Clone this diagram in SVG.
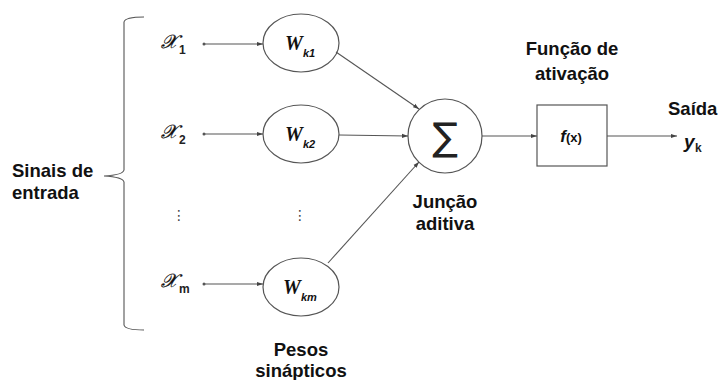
<svg xmlns="http://www.w3.org/2000/svg" width="721" height="380" viewBox="0 0 721 380">
<style>
.shape{fill:#fff;stroke:#555;stroke-width:1.2}
.ln{fill:none;stroke:#555;stroke-width:1.1}
.lbl{font-family:"Liberation Sans",Arial,sans-serif;font-weight:bold;font-size:18.5px;fill:#111}
.xv{font-family:"DejaVu Serif","Liberation Serif",serif;font-style:italic;font-size:19px;fill:#111;stroke:#111;stroke-width:0.3}
.sub{font-family:"Liberation Sans",Arial,sans-serif;font-weight:bold;font-size:12px;fill:#222}
.w{font-family:"Liberation Serif","Times New Roman",serif;font-style:italic;font-weight:bold;font-size:20px;fill:#111}
.wsub{font-family:"Liberation Sans",Arial,sans-serif;font-style:italic;font-weight:bold;font-size:11px;fill:#111}
.dots{font-family:"DejaVu Sans",sans-serif;font-size:14px;fill:#444}
</style>
<defs>
<marker id="ah" viewBox="0 0 10 10" refX="10" refY="5" markerWidth="6" markerHeight="6" orient="auto" markerUnits="userSpaceOnUse">
<path d="M0,1.5 L10,5 L0,8.5 Z" fill="#444"/>
</marker>
<marker id="dot" viewBox="0 0 4 4" refX="2" refY="2" markerWidth="4" markerHeight="4" markerUnits="userSpaceOnUse">
<circle cx="2" cy="2" r="1.5" fill="#555"/>
</marker>
</defs>
<g id="bracket">
<path class="ln" d="M144,17 Q125,17 124,22 L124,170 Q123,175 104,176 Q123,177 124,182 L124,325 Q125,330 144,330"/>
</g>
<g id="input-labels">
<text class="lbl" x="12" y="177">Sinais de</text>
<text class="lbl" x="12" y="199">entrada</text>
</g>
<g id="x1"><text class="xv" x="161" y="48">𝒳</text><text class="sub" x="179" y="54">1</text></g>
<g id="x2"><text class="xv" x="161" y="138">𝒳</text><text class="sub" x="179" y="144">2</text></g>
<g id="xm"><text class="xv" x="161" y="287">𝒳</text><text class="sub" x="179" y="293">m</text></g>
<g id="xdots"><text class="dots" x="179" y="220" text-anchor="middle">⋮</text></g>
<g id="wk1"><ellipse class="shape" cx="301" cy="43" rx="38" ry="29"/><text class="w" x="285" y="50">W</text><text class="wsub" x="303" y="57">k1</text></g>
<g id="wk2"><ellipse class="shape" cx="301" cy="134" rx="38" ry="29"/><text class="w" x="285" y="141">W</text><text class="wsub" x="303" y="148">k2</text></g>
<g id="wdots"><text class="dots" x="300" y="220" text-anchor="middle">⋮</text></g>
<g id="wkm"><ellipse class="shape" cx="301" cy="287" rx="38" ry="29"/><text class="w" x="283" y="294">W</text><text class="wsub" x="301" y="301">km</text></g>
<g id="sum"><circle class="shape" cx="445" cy="136" r="37"/><text x="445" y="150" text-anchor="middle" font-family="DejaVu Sans,sans-serif" font-size="38" fill="#222">∑</text></g>
<g id="fx"><rect class="shape" x="537" y="105" width="70" height="61"/><text x="571" y="142" text-anchor="middle" font-family="Liberation Sans,Arial,sans-serif" font-size="13" font-weight="bold" fill="#111"><tspan font-style="italic" font-size="17">f</tspan>(x)</text></g>
<g id="labels">
<text class="lbl" x="301" y="356" text-anchor="middle">Pesos</text>
<text class="lbl" x="301" y="377" text-anchor="middle">sinápticos</text>
<text class="lbl" x="445" y="208" text-anchor="middle">Junção</text>
<text class="lbl" x="445" y="230" text-anchor="middle">aditiva</text>
<text class="lbl" x="572" y="55" text-anchor="middle">Função de</text>
<text class="lbl" x="572" y="80" text-anchor="middle">ativação</text>
<text class="lbl" x="668" y="115">Saída</text>
</g>
<g id="yk"><text x="684" y="148" font-family="Liberation Sans,Arial,sans-serif" font-style="italic" font-weight="bold" font-size="19" fill="#111">y</text><text x="695" y="152" class="sub" font-size="11">k</text></g>
<g id="connectors">
<line class="ln" x1="204" y1="44" x2="263" y2="44" marker-start="url(#dot)" marker-end="url(#ah)"/>
<line class="ln" x1="204" y1="134" x2="263" y2="134" marker-start="url(#dot)" marker-end="url(#ah)"/>
<line class="ln" x1="204" y1="284" x2="263" y2="284" marker-start="url(#dot)" marker-end="url(#ah)"/>
<line class="ln" x1="336" y1="52" x2="419" y2="109" marker-end="url(#ah)"/>
<line class="ln" x1="339" y1="135" x2="408" y2="136" marker-end="url(#ah)"/>
<line class="ln" x1="328" y1="263" x2="419" y2="162" marker-end="url(#ah)"/>
<line class="ln" x1="482" y1="136" x2="537" y2="136" marker-end="url(#ah)"/>
<line class="ln" x1="607" y1="136" x2="677" y2="136" marker-end="url(#ah)"/>
</g>
</svg>
